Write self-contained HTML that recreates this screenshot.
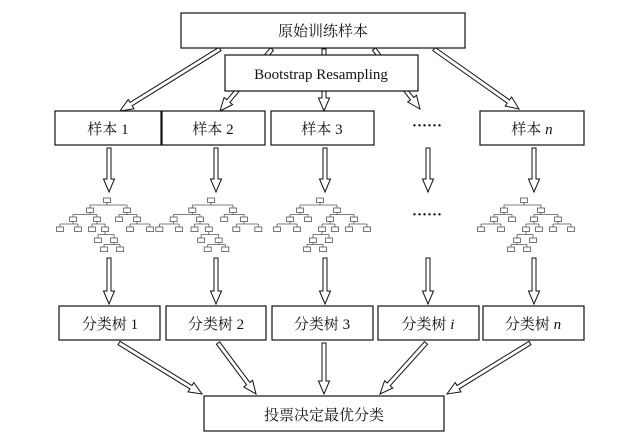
<!DOCTYPE html>
<html><head><meta charset="utf-8"><style>
body{margin:0;background:#fff;width:622px;height:435px;overflow:hidden}
svg{display:block}
text{font-family:"Liberation Serif","Noto Serif CJK SC",serif;font-size:15px;fill:#111}
</style></head><body>
<svg id="s" width="622" height="435" xmlns="http://www.w3.org/2000/svg">
<g id="arrows"></g>
<g id="trees" stroke="#555" stroke-width="0.8" fill="#fff"></g>
<g fill="#fff" stroke="#111" stroke-width="1.2">
<rect x="181" y="13" width="284" height="35"/>
<rect x="225" y="55" width="193" height="36"/>
<rect x="55" y="111" width="106" height="34"/>
<rect x="162" y="111" width="103" height="34"/>
<rect x="271" y="111" width="103" height="34"/>
<rect x="480" y="111" width="104" height="34"/>
<rect x="59" y="306" width="101" height="34"/>
<rect x="166" y="306" width="100" height="34"/>
<rect x="272" y="306" width="101" height="34"/>
<rect x="378" y="306" width="101" height="34"/>
<rect x="483" y="306" width="101" height="34"/>
<rect x="204" y="396" width="240" height="35"/>
</g>
<text x="323" y="36" text-anchor="middle">原始训练样本</text>
<text x="321" y="79" text-anchor="middle">Bootstrap Resampling</text>
<text x="108" y="134" text-anchor="middle">样本 1</text>
<text x="213" y="134" text-anchor="middle">样本 2</text>
<text x="322" y="134" text-anchor="middle">样本 3</text>
<text x="532" y="134" text-anchor="middle">样本 <tspan font-style="italic">n</tspan></text>
<text x="427" y="130" text-anchor="middle" font-weight="bold">······</text>
<text x="427" y="219" text-anchor="middle" font-weight="bold">······</text>
<text x="110" y="329" text-anchor="middle">分类树 1</text>
<text x="216" y="329" text-anchor="middle">分类树 2</text>
<text x="322" y="329" text-anchor="middle">分类树 3</text>
<text x="428" y="329" text-anchor="middle">分类树 <tspan font-style="italic">i</tspan></text>
<text x="533" y="329" text-anchor="middle">分类树 <tspan font-style="italic">n</tspan></text>
<text x="324" y="420" text-anchor="middle">投票决定最优分类</text>
</svg>
<script>
var NS="http://www.w3.org/2000/svg";
function arrow(x1,y1,x2,y2){
 var dx=x2-x1,dy=y2-y1,L=Math.sqrt(dx*dx+dy*dy),ux=dx/L,uy=dy/L,px=-uy,py=ux;
 var sw=2,hw=5.5,hl=13;var bx=x2-ux*hl,by=y2-uy*hl;
 var pts=[[x1+px*sw,y1+py*sw],[bx+px*sw,by+py*sw],[bx+px*hw,by+py*hw],[x2,y2],[bx-px*hw,by-py*hw],[bx-px*sw,by-py*sw],[x1-px*sw,y1-py*sw]];
 var p=document.createElementNS(NS,"polygon");
 p.setAttribute("points",pts.map(function(a){return a[0].toFixed(1)+","+a[1].toFixed(1)}).join(" "));
 p.setAttribute("fill","#fff");p.setAttribute("stroke","#111");p.setAttribute("stroke-width","1");
 document.getElementById("arrows").appendChild(p);
}
[[220,49,120,111],[272,49,220,111],[324,49,324,111],[374,49,420,109],[434,49,519,109],
[109,148,109,192],[216,148,216,192],[325,148,325,192],[428,148,428,192],[534,148,534,192],
[109,258,109,304],[216,258,216,304],[325,258,325,304],[428,258,428,304],[534,258,534,304],
[119,343,202,394],[218,343,256,394],[324,343,324,394],[426,343,380,394],[530,343,447,394]
].forEach(function(a){arrow.apply(null,a)});
var T=document.getElementById("trees");
var LY=[200,210,219,229,240,249];
var N=[[0,0,-1],[-17,1,0],[20,1,0],[-34,2,1],[-10,2,1],[12,2,2],[30,2,2],
[-47,3,3],[-29,3,3],[-15,3,4],[-2,3,4],[23,3,6],[43,3,6],[-9,4,10],[7,4,10],[-3,5,14],[13,5,14]];
function tree(cx,m){
 var kids={};
 N.forEach(function(n,i){if(n[2]>=0){(kids[n[2]]=kids[n[2]]||[]).push(i);}});
 var d="";
 for(var p in kids){var pn=N[p],ks=kids[p];var px=cx+m*pn[0],py=LY[pn[1]];var cy=LY[pn[1]+1];var my=(py+cy)/2;
  var xs=ks.map(function(k){return cx+m*N[k][0]});
  d+="M"+px+" "+(py+2)+"V"+my+"M"+Math.min.apply(null,xs)+" "+my+"H"+Math.max.apply(null,xs);
  xs.forEach(function(x){d+="M"+x+" "+my+"V"+(cy-2)});}
 var l=document.createElementNS(NS,"path");l.setAttribute("d",d);l.setAttribute("fill","none");T.appendChild(l);
 N.forEach(function(n){var b=document.createElementNS(NS,"rect");
  b.setAttribute("x",cx+m*n[0]-3.5);b.setAttribute("y",LY[n[1]]-2);b.setAttribute("width",7);b.setAttribute("height",4.5);T.appendChild(b);});
}
tree(107,1);tree(211,1.1);tree(320,-1);tree(524,-1);
</script>
</body></html>
